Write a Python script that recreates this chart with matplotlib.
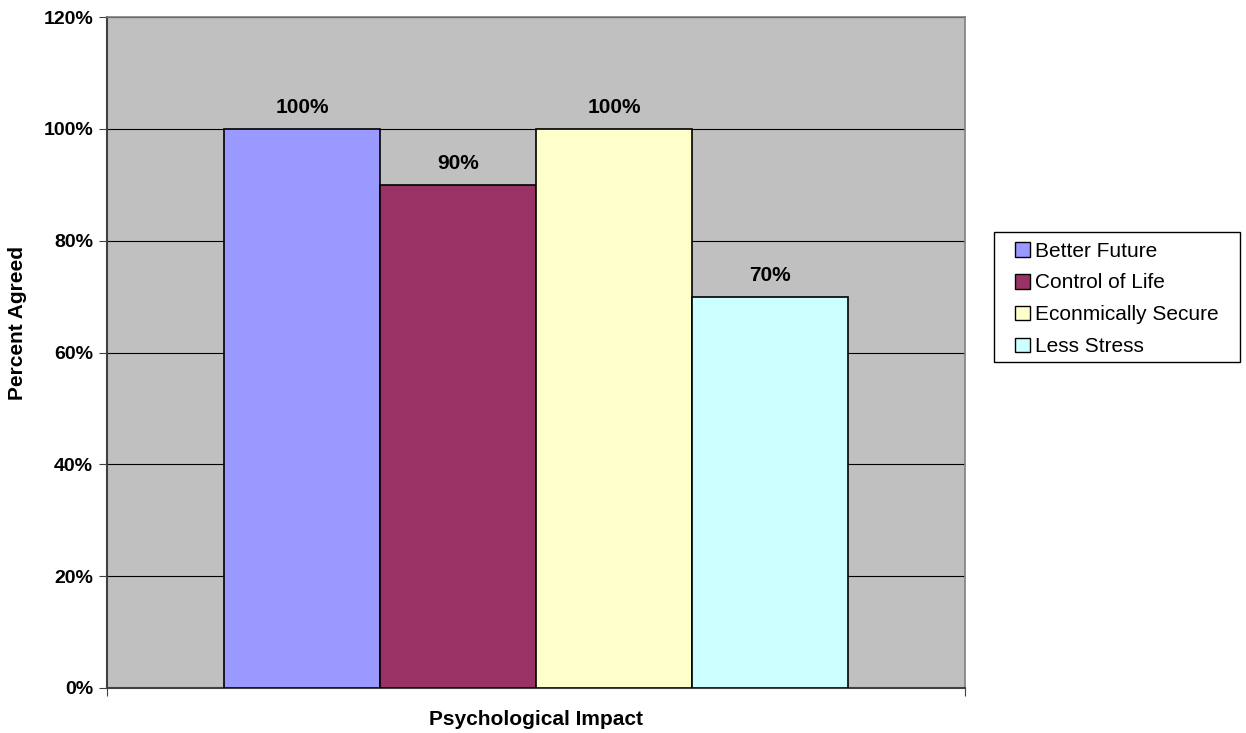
import matplotlib
matplotlib.use('Agg')
import matplotlib.pyplot as plt
from matplotlib.patches import Patch, Rectangle
from matplotlib.ticker import PercentFormatter

plt.rcParams['font.family'] = ['Liberation Sans', 'DejaVu Sans']

# data
categories = ['Better Future', 'Control of Life', 'Econmically Secure', 'Less Stress']
values = [100, 90, 100, 70]
colors = ['#9999FF', '#993366', '#FFFFCC', '#CCFFFF']
yticks = [0, 20, 40, 60, 80, 100, 120]

W, H = 1246, 733
fig = plt.figure(figsize=(W/100, H/100), dpi=100)
ax = fig.add_axes([107/W, 45/H, 858/W, 671/H])
ax.set_facecolor('#C0C0C0')

bw = 156/858
offsets = [(i - 1.5) * bw for i in range(len(categories))]
for off, v, c in zip(offsets, values, colors):
    ax.bar(off, v, width=bw, color=c, edgecolor='black', linewidth=1.2, zorder=3)
    ax.text(off, v + 2.1, f'{v}%', ha='center', va='bottom',
            fontsize=15, fontweight='bold', zorder=4)

ax.set_xlim(-0.5, 0.5)
ax.set_ylim(0, 120)
ax.set_yticks(yticks)
ax.yaxis.set_major_formatter(PercentFormatter(decimals=0))
ax.grid(axis='y', color='black', linewidth=0.8, zorder=1)
ax.set_xticks([-0.5, 0.5])
ax.set_xticklabels(['', ''])
ax.tick_params(axis='x', length=6, color='#404040')
ax.tick_params(axis='y', length=6, color='#404040', labelsize=14, pad=4)
for lbl in ax.get_yticklabels():
    lbl.set_fontweight('bold')

for side in ['left', 'bottom']:
    ax.spines[side].set_color('#404040')
    ax.spines[side].set_linewidth(1.5)
for side in ['top', 'right']:
    ax.spines[side].set_color('#808080')
    ax.spines[side].set_linewidth(1.2)

ax.set_ylabel('Percent Agreed', fontsize=15, fontweight='bold')
ax.yaxis.set_label_coords(-0.0932, 0.544)
ax.set_xlabel('Psychological Impact', fontsize=15, fontweight='bold', labelpad=6)

# legend box drawn separately so the padding can match
fig.patches.append(Rectangle((994/W, 1 - 362/H), 246/W, 130/H,
                             transform=fig.transFigure, facecolor='white',
                             edgecolor='black', linewidth=1))
handles = [Patch(facecolor=c, edgecolor='black', linewidth=1) for c in colors]
fig.legend(handles, categories, loc='upper left',
           bbox_to_anchor=(1015/W, 1 - 241.5/H), fontsize=15,
           frameon=False, handlelength=0.72, handleheight=0.72,
           handletextpad=0.24, borderpad=0, labelspacing=0.62,
           borderaxespad=0)

fig.savefig('out.png', dpi=100, facecolor='white')
